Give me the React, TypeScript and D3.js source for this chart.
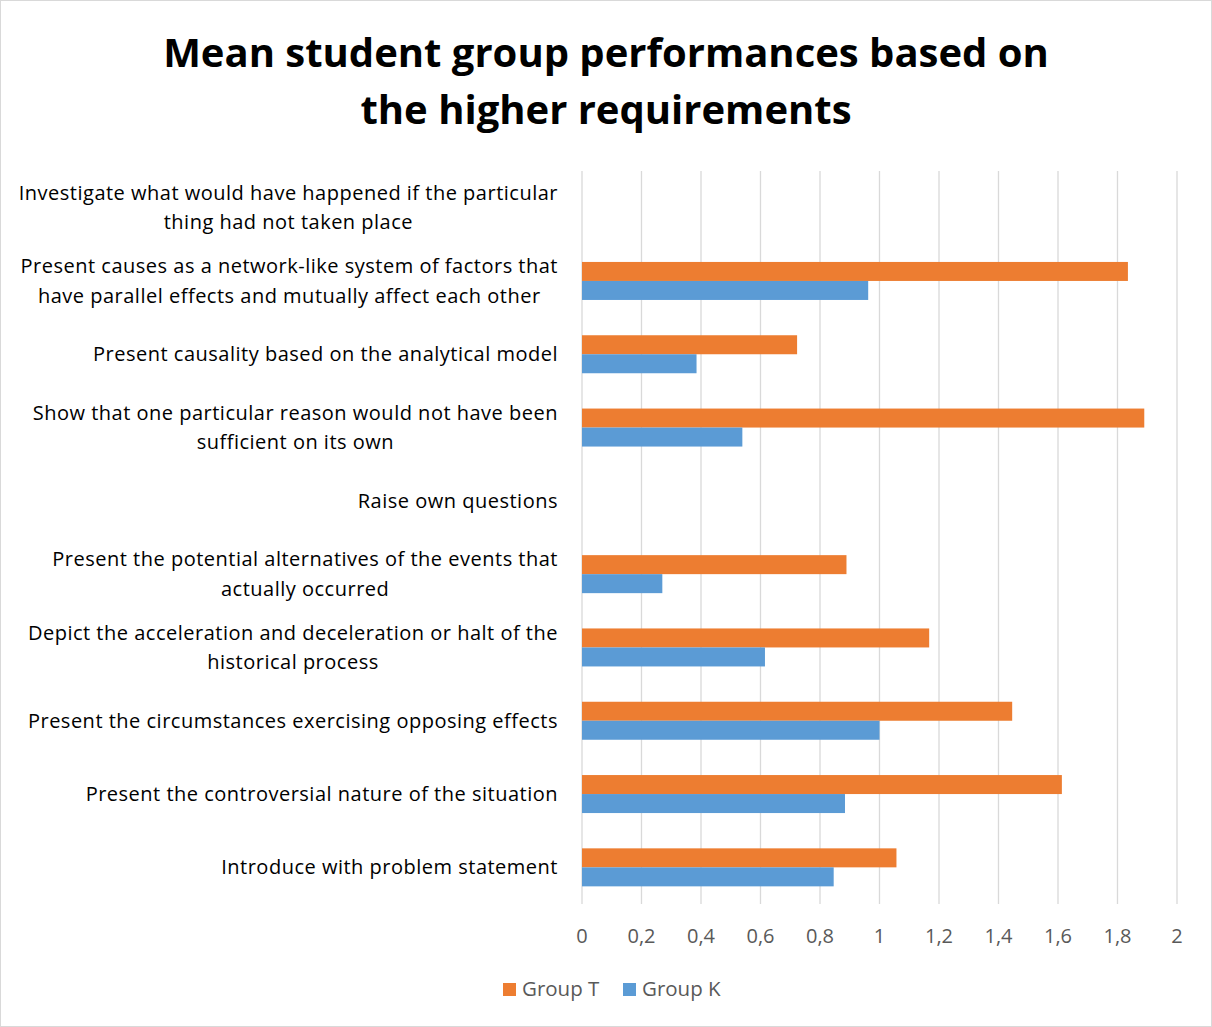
import React, { useEffect, useRef } from 'react';
import * as d3 from 'd3';

const categories = [
  ['Investigate what would have happened if the particular', 'thing had not taken place'],
  ['Present causes as a network-like system of factors that', 'have parallel effects and mutually affect each other'],
  ['Present causality based on the analytical model'],
  ['Show that one particular reason would not have been', 'sufficient on its own'],
  ['Raise own questions'],
  ['Present the potential alternatives of the events that', 'actually occurred'],
  ['Depict the acceleration and deceleration or halt of the', 'historical process'],
  ['Present the circumstances exercising opposing effects'],
  ['Present the controversial nature of the situation'],
  ['Introduce with problem statement'],
];
const groupT = [0, 1.835, 0.723, 1.89, 0, 0.889, 1.167, 1.446, 1.613, 1.057];
const groupK = [0, 0.962, 0.385, 0.539, 0, 0.27, 0.615, 1.0, 0.884, 0.846];
const ticks = [0, 0.2, 0.4, 0.6, 0.8, 1, 1.2, 1.4, 1.6, 1.8, 2];
const series = [
  { name: 'Group T', values: groupT, color: '#ED7D31' },
  { name: 'Group K', values: groupK, color: '#5B9BD5' },
];

const W = 1212;
const H = 1027;
const font = '"Open Sans", "DejaVu Sans", sans-serif';

export default function App() {
  const ref = useRef<SVGSVGElement>(null);

  function drawChart() {
    document.body.style.margin = '0';
    const svg = d3.select(ref.current);
    svg.selectAll('*').remove();

    svg.append('rect')
      .attr('x', 0.5).attr('y', 0.5)
      .attr('width', W - 1).attr('height', H - 1)
      .attr('fill', '#fff').attr('stroke', '#d9d9d9');

    // title
    const title = svg.append('text')
      .attr('text-anchor', 'middle')
      .attr('font-family', font)
      .attr('font-weight', 'bold')
      .attr('font-size', 40)
      .attr('fill', '#000');
    title.append('tspan').attr('x', 606).attr('y', 67).text('Mean student group performances based on');
    title.append('tspan').attr('x', 606).attr('y', 124).text('the higher requirements');

    const x = d3.scaleLinear().domain([0, 2]).range([582, 1177]);
    const y = d3.scaleBand<number>().domain(d3.range(categories.length)).range([171, 904]);
    const barH = 19;

    // gridlines
    svg.append('g')
      .selectAll('line')
      .data(ticks)
      .join('line')
      .attr('x1', d => x(d)).attr('x2', d => x(d))
      .attr('y1', 171).attr('y2', 904)
      .attr('stroke', '#d9d9d9')
      .attr('stroke-width', 1.3);

    // tick labels
    svg.append('g')
      .selectAll('text')
      .data(ticks)
      .join('text')
      .attr('x', d => x(d))
      .attr('y', 943)
      .attr('text-anchor', 'middle')
      .attr('font-family', font)
      .attr('font-size', 20)
      .attr('fill', '#595959')
      .text(d => String(d).replace('.', ','));

    // bars
    series.forEach((s, si) => {
      svg.append('g')
        .selectAll('rect')
        .data(s.values)
        .join('rect')
        .attr('x', x(0))
        .attr('y', (d, i) => (y(i) as number) + y.bandwidth() / 2 - barH + si * barH)
        .attr('width', d => x(d) - x(0))
        .attr('height', barH)
        .attr('fill', s.color);
    });

    // category labels, wrapped lines centered within a right-aligned block
    const labels = svg.append('g')
      .attr('font-family', font)
      .attr('font-size', 20)
      .attr('letter-spacing', 0.5)
      .attr('fill', '#000');
    categories.forEach((lines, i) => {
      const cy = (y(i) as number) + y.bandwidth() / 2;
      const lineH = 29.5;
      const texts = lines.map((t, li) =>
        labels.append('text')
          .attr('y', cy + (li - (lines.length - 1) / 2) * lineH + 7)
          .attr('text-anchor', 'middle')
          .text(t)
      );
      const maxW = d3.max(texts, t => (t.node() as SVGTextElement).getComputedTextLength()) || 0;
      texts.forEach(t => t.attr('x', 558 - maxW / 2));
    });

    // legend
    const legend = svg.append('g')
      .attr('font-family', font)
      .attr('font-size', 20.5)
      .attr('fill', '#595959');
    const legendX = [503, 623];
    series.forEach((s, i) => {
      legend.append('rect')
        .attr('x', legendX[i]).attr('y', 983)
        .attr('width', 13).attr('height', 13)
        .attr('fill', s.color);
      legend.append('text')
        .attr('x', legendX[i] + 19).attr('y', 996)
        .text(s.name);
    });
  }

  useEffect(() => drawChart(), []);
  return <svg ref={ref} width={W} height={H} style={{ display: 'block' }} />;
}
